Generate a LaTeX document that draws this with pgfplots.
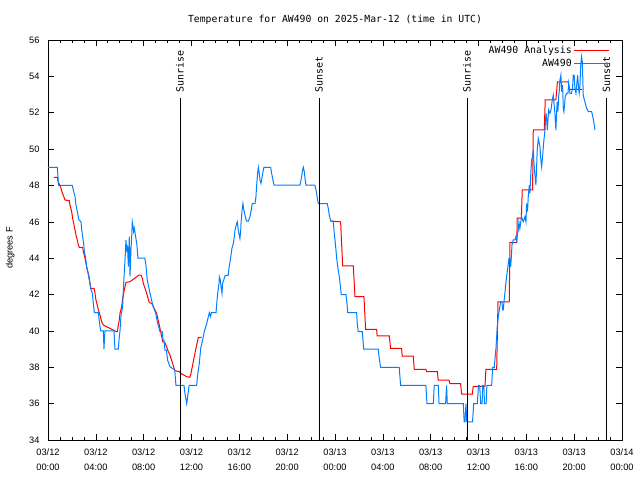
\documentclass[border=0pt]{standalone}
\usepackage{fontspec}
\setmainfont{Liberation Sans}
\newfontfamily\monofont{DejaVu Sans Mono}
\usepackage{pgfplots}
\pgfplotsset{compat=1.18}
\definecolor{obsblue}{RGB}{0,128,255}
\begin{document}
\begin{tikzpicture}
\useasboundingbox (-48bp,-40bp) rectangle (592bp,440bp);
\begin{axis}[
  at={(0,0)}, anchor=south west, scale only axis,
  width=574bp, height=400bp,
  xmin=0, xmax=48, ymin=34, ymax=56,
  xtick={0,4,...,48}, minor x tick num=3,
  xticklabels={{03/12\\00:00},{03/12\\04:00},{03/12\\08:00},{03/12\\12:00},{03/12\\16:00},{03/12\\20:00},{03/13\\00:00},{03/13\\04:00},{03/13\\08:00},{03/13\\12:00},{03/13\\16:00},{03/13\\20:00},{03/14\\00:00}},
  ytick={34,36,...,56},
  /pgf/number format/assume math mode=true,
  tick align=inside, major tick length=6bp, minor tick length=3bp,
  tick style={black, line width=0.6bp},
  axis line style={black, line width=0.8bp},
  xticklabel style={align=center, font=\fontsize{9.3}{15}\selectfont, yshift=-5bp},
  yticklabel style={font=\fontsize{9.3}{11}\selectfont, xshift=-5bp},
  title={Temperature for AW490 on 2025-Mar-12 (time in UTC)},
  title style={font=\monofont\fontsize{9.8}{11}\selectfont, at={(0.5,1)}, anchor=base, yshift=12bp},
  ylabel={degrees F},
  every axis y label/.style={at={(axis description cs:-0.066,0.48)}, anchor=center, rotate=90, font=\fontsize{9.3}{11}\selectfont},
  legend style={at={(0.979,0.99)}, anchor=north east, draw=none, fill=none,
    font=\monofont\fontsize{9.9}{12}\selectfont, inner sep=0pt, row sep=-0.5bp},
  legend cell align=right, legend plot pos=right,
  legend image code/.code={\path (0bp,0bp) -- (35bp,0bp); \draw[#1, line width=1bp] (7bp,0bp) -- (35bp,0bp);},
]
% Analysis, first segment
\addplot[red, line width=1bp] coordinates {
(0.5,48.45) (0.78,48.45) (0.85,48.2) (1.0,48.0) (1.09,47.84) (1.2,47.57) (1.28,47.47) (1.42,47.2) (1.78,47.16) (1.84,46.92) (1.98,46.56) (2.06,46.19) (2.12,46.0) (2.2,45.73) (2.26,45.55) (2.34,45.27) (2.45,45.0) (2.54,44.72) (2.62,44.6) (2.9,44.6) (2.95,44.36) (3.04,44.17) (3.12,43.9) (3.23,43.53) (3.37,43.17) (3.46,42.89) (3.57,42.34) (3.85,42.34) (3.93,42.07) (4.01,41.7) (4.12,41.42) (4.21,41.15) (4.35,40.87) (4.49,40.5) (4.63,40.32) (4.9,40.23) (5.18,40.14) (5.46,40.05) (5.69,39.96) (5.8,39.96) (5.88,40.32) (5.97,40.63) (6.02,40.97) (6.16,41.33) (6.24,41.79) (6.35,42.16) (6.44,42.43) (6.52,42.67) (6.86,42.71) (7.13,42.84) (7.42,42.98) (7.61,43.07) (7.78,43.07) (7.89,42.89) (7.97,42.62) (8.11,42.34) (8.25,42.07) (8.47,41.55) (8.67,41.52) (8.81,41.33) (9.09,40.97) (9.17,40.69) (9.31,40.32) (9.42,39.96) (9.51,39.68) (9.59,39.41) (9.78,39.35) (9.92,39.13) (10.06,38.86) (10.2,38.67) (10.28,38.49) (10.42,38.22) (10.54,37.94) (10.62,37.81) (10.98,37.76) (11.18,37.63) (11.37,37.57) (11.6,37.48) (11.87,37.45) (11.96,37.67) (12.01,37.85) (12.1,38.12) (12.2,38.49) (12.29,38.77) (12.43,39.22) (12.57,39.63) (12.85,39.65)
};
\addlegendentry{AW490 Analysis}
% Analysis, second segment
\addplot[red, line width=1bp, forget plot] coordinates {
(23.64,46.04) (24.47,46.0) (24.64,43.57) (25.53,43.57) (25.67,41.88) (26.42,41.88) (26.56,40.09) (27.48,40.09) (27.53,39.72) (28.54,39.72) (28.65,39.04) (29.57,39.04) (29.62,38.62) (30.54,38.62) (30.63,37.89) (31.6,37.89) (31.66,37.76) (32.56,37.76) (32.63,37.3) (33.53,37.3) (33.61,37.1) (34.5,37.1) (34.59,36.52) (35.48,36.52) (35.56,36.95) (36.54,36.95) (36.62,37.89) (37.52,37.89) (37.63,41.6) (38.57,41.6) (38.63,44.85) (39.2,44.85) (39.24,46.2) (39.58,46.2) (39.66,47.75) (40.52,47.75) (40.58,51.05) (41.5,51.05) (41.58,52.7) (42.47,52.7) (42.6,53.7) (43.5,53.7) (43.59,53.29) (44.68,53.29)
};
% Observations
\addplot[obsblue, line width=1bp] coordinates {
(0,49) (0.78,49) (0.88,48) (2.03,48) (2.12,47.75) (2.26,47.38) (2.34,46.92) (2.45,46.56) (2.59,46.1) (2.76,46.0) (2.82,45.55) (2.9,45.18) (2.98,44.82) (3.04,44.36) (3.15,44.0) (3.23,43.53) (3.37,43.1) (3.51,42.6) (3.6,42.25) (3.71,42.07) (3.79,41.5) (3.88,41.0) (4.21,41.0) (4.3,40.5) (4.4,40.0) (4.63,40.0) (4.68,39.0) (4.76,40.0) (5.52,40.0) (5.6,39.0) (5.88,39.0) (5.95,39.6) (6.02,40.0) (6.1,40.8) (6.24,41.33) (6.35,42.9) (6.44,43.9) (6.52,45.0) (6.58,44.45) (6.65,44.6) (6.72,43.53) (6.8,45.18) (6.86,43.0) (6.94,44.5) (7.0,45.18) (7.05,46.0) (7.1,45.8) (7.16,45.46) (7.22,45.64) (7.33,45.18) (7.42,44.82) (7.47,44.45) (7.52,44.0) (8.1,44.0) (8.19,43.62) (8.25,43.17) (8.3,42.8) (8.53,42.07) (8.73,41.5) (8.9,41.15) (9.0,41.0) (9.14,40.5) (9.36,39.96) (9.55,39.96) (9.62,39.5) (9.7,39.5) (9.78,38.95) (9.9,38.95) (10.0,38.4) (10.2,38.03) (10.6,37.85) (10.7,37.0) (11.37,37.0) (11.45,36.57) (11.6,36.0) (11.7,36.5) (11.8,37.0) (12.43,37.0) (12.5,37.5) (12.65,38.2) (12.77,39.04) (12.93,39.5) (13.07,39.96) (13.27,40.4) (13.49,41.0) (13.6,40.78) (13.65,41.0) (14.05,41.0) (14.1,41.42) (14.19,42.07) (14.3,42.62) (14.33,42.98) (14.41,42.8) (14.47,42.43) (14.55,42.07) (14.6,42.62) (14.74,42.89) (14.8,43.03) (15.08,43.07) (15.13,43.44) (15.22,43.8) (15.3,44.17) (15.38,44.54) (15.5,44.82) (15.58,45.18) (15.64,45.55) (15.78,45.92) (15.83,46.0) (15.91,45.55) (16.0,45.27) (16.05,45.09) (16.11,45.46) (16.14,45.92) (16.22,46.56) (16.3,47.0) (16.36,46.74) (16.44,46.47) (16.53,46.19) (16.61,46.04) (16.75,46.04) (16.89,46.28) (16.97,46.56) (17.08,47.0) (17.31,47.0) (17.39,47.38) (17.45,48.02) (17.53,48.67) (17.59,49.0) (17.67,48.67) (17.73,48.3) (17.81,48.12) (17.89,48.39) (17.95,48.67) (18.06,49.0) (18.62,49.0) (18.7,48.67) (18.81,48.3) (18.9,48.02) (21.07,48.02) (21.21,48.48) (21.29,48.85) (21.35,49.0) (21.43,48.76) (21.49,48.39) (21.57,48.02) (22.32,48.02) (22.41,47.75) (22.46,47.57) (22.55,47.2) (22.6,47.0) (23.35,47.0) (23.44,46.74) (23.52,46.37) (23.64,46.04) (23.86,46.04) (23.91,45.55) (24.0,45.0) (24.08,44.45) (24.14,44.0) (24.25,43.44) (24.36,42.98) (24.44,42.52) (24.52,42.0) (24.92,42.0) (25.0,41.52) (25.06,41.0) (25.81,41.0) (25.86,40.42) (25.94,39.96) (26.28,39.96) (26.34,39.5) (26.4,39.0) (27.62,39.0) (27.7,38.49) (27.81,38.0) (29.37,38.0) (29.43,37.48) (29.49,37.0) (31.6,37.0) (31.69,36.0) (32.22,36.0) (32.3,37.0) (32.64,37.0) (32.7,36.0) (33.25,36.0) (33.33,37.0) (33.39,36.0) (34.73,36.0) (34.8,35.0) (34.87,35.0) (34.95,36.0) (35.02,35.0) (35.14,35.0) (35.5,35.0) (35.6,36.0) (35.9,36.0) (36.0,37.0) (36.1,37.0) (36.18,36.0) (36.3,36.0) (36.35,37.0) (36.45,37.0) (36.5,36.0) (36.64,36.0) (36.7,37.0) (37.1,37.0) (37.18,38.0) (37.32,38.0) (37.37,38.4) (37.46,39.04) (37.57,40.23) (37.65,40.78) (37.74,41.15) (37.85,41.6) (37.96,41.6) (38.02,41.15) (38.07,41.15) (38.13,41.6) (38.21,42.07) (38.27,42.52) (38.35,42.98) (38.44,43.44) (38.55,43.99) (38.63,43.99) (38.69,43.53) (38.74,43.99) (38.8,44.72) (38.9,45.0) (39.05,45.0) (39.13,45.18) (39.19,45.0) (39.27,45.37) (39.33,45.55) (39.38,46.0) (39.46,45.64) (39.6,46.28) (39.74,46.0) (39.88,46.28) (39.97,46.0) (40.02,47.0) (40.1,46.56) (40.16,47.38) (40.25,48.02) (40.3,47.57) (40.36,48.48) (40.44,49.4) (40.52,49.58) (40.58,49.95) (40.66,49.03) (40.72,48.57) (40.8,48.02) (40.86,49.03) (40.91,49.95) (41.0,50.59) (41.14,50.13) (41.19,49.58) (41.28,49.03) (41.36,49.58) (41.41,50.04) (41.47,50.5) (41.56,51.05) (41.64,51.97) (41.7,51.69) (41.75,51.05) (41.81,51.6) (41.86,52.15) (41.97,51.97) (42.06,52.15) (42.17,52.7) (42.25,52.97) (42.33,52.42) (42.39,51.97) (42.47,51.05) (42.53,51.97) (42.58,52.6) (42.64,52.06) (42.7,52.88) (42.75,53.16) (42.81,53.8) (42.89,54.07) (42.95,53.16) (43.03,53.52) (43.09,52.24) (43.14,52.06) (43.2,52.42) (43.25,52.88) (43.37,53.07) (43.48,53.07) (43.54,53.62) (43.65,53.07) (43.79,53.07) (43.87,53.43) (43.92,54.07) (44.0,54.07) (44.06,53.34) (44.15,53.07) (44.2,53.43) (44.29,54.07) (44.37,53.34) (44.42,53.07) (44.48,53.43) (44.54,54.53) (44.62,55.08) (44.68,54.81) (44.76,52.97) (44.82,52.79) (44.9,52.6) (45.04,52.24) (45.18,52.06) (45.46,52.06) (45.59,51.69) (45.68,51.32) (45.74,51.05)
};
\addlegendentry{AW490}
% Sunrise / sunset markers
\addplot[black, line width=0.8bp, forget plot] coordinates {(11.04,34) (11.04,52.81)};
\addplot[black, line width=0.8bp, forget plot] coordinates {(22.66,34) (22.66,52.81)};
\addplot[black, line width=0.8bp, forget plot] coordinates {(35.03,34) (35.03,52.81)};
\addplot[black, line width=0.8bp, forget plot] coordinates {(46.7,34) (46.7,52.81)};
\node[rotate=90, anchor=west, inner sep=0pt, font=\monofont\fontsize{10}{12}\selectfont] at (axis cs:11.04,53.08) {Sunrise};
\node[rotate=90, anchor=west, inner sep=0pt, font=\monofont\fontsize{10}{12}\selectfont] at (axis cs:22.66,53.08) {Sunset};
\node[rotate=90, anchor=west, inner sep=0pt, font=\monofont\fontsize{10}{12}\selectfont] at (axis cs:35.03,53.08) {Sunrise};
\node[rotate=90, anchor=west, inner sep=0pt, font=\monofont\fontsize{10}{12}\selectfont] at (axis cs:46.7,53.08) {Sunset};
\end{axis}
\end{tikzpicture}
\end{document}
